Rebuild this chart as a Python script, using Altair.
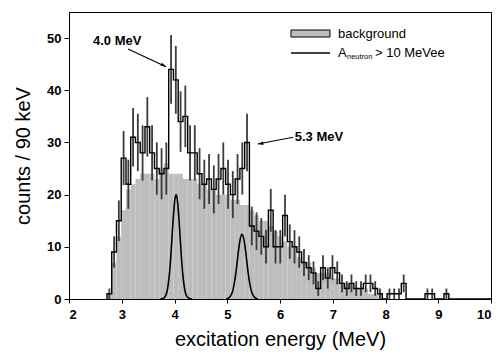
import altair as alt
import pandas as pd

# ---- spectrum: 90 keV bins starting at 2.72 MeV ----
E_START = 2.72
BIN_W = 0.09
X_MIN, X_MAX = 2, 10
Y_MAX = 55

counts = [1, 9, 15, 27, 22, 31, 30, 28, 33, 28,
          25, 24, 25, 44, 42, 34, 35, 28, 28, 24,
          22, 23, 21, 23, 25, 22, 20, 23, 25, 30,
          14, 13, 12, 10, 17, 10, 10, 16, 11, 10,
          9, 7, 6, 5, 2, 6, 4, 6, 5, 3,
          2, 3, 2, 2, 3, 3, 2, 1, 0, 1,
          1, 1, 3, 0, 0, 0, 0, 1, 1, 0,
          0, 1]

errors = [1.0, 3.0, 3.9, 5.2, 4.7, 5.6, 5.5, 5.3, 5.7, 5.3,
          5.0, 4.9, 5.0, 6.6, 6.5, 5.8, 5.9, 5.3, 5.3, 4.9,
          4.7, 4.8, 4.6, 4.8, 5.0, 4.7, 4.5, 4.8, 5.0, 5.5,
          3.7, 3.6, 3.5, 3.2, 4.1, 3.2, 3.2, 4.0, 3.3, 3.2,
          3.0, 2.6, 2.4, 2.2, 1.4, 2.4, 2.0, 2.4, 2.2, 1.7,
          1.4, 1.7, 1.4, 1.4, 1.7, 1.7, 1.4, 1.0, 0.0, 1.0,
          1.0, 1.0, 1.7, 0.0, 0.0, 0.0, 0.0, 1.0, 1.0, 0.0,
          0.0, 1.0]

background = [1, 7, 12, 17, 21, 22, 23, 24, 24, 24,
              23, 25, 26, 24, 24, 24, 23, 23, 23, 22,
              22, 21, 21, 20, 20, 20, 19, 19, 18, 18,
              17, 16, 15, 15, 14, 13, 12, 11, 10, 10,
              8, 7, 7, 6, 5, 5, 5, 4, 4, 3,
              3, 3, 2, 2, 2, 1, 1, 1, 0, 0,
              0, 0, 0, 0, 0, 0, 0, 0, 0, 0,
              0, 0]

# ---- fitted peak shapes ----
peak1_e = [3.73, 3.78, 3.83, 3.855, 3.88, 3.905, 3.93, 3.955, 3.98, 4.005, 4.03,
           4.055, 4.08, 4.105, 4.13, 4.155, 4.18, 4.205, 4.23, 4.28, 4.33]
peak1_y = [0, 0.1, 0.6, 1.3, 2.7, 5.0, 8.2, 12.1, 16.0, 18.9, 20.0,
           18.9, 16.0, 12.1, 8.2, 5.0, 2.7, 1.3, 0.6, 0.1, 0]
peak2_e = [4.98, 5.03, 5.08, 5.105, 5.13, 5.155, 5.18, 5.205, 5.23, 5.255, 5.28,
           5.305, 5.33, 5.355, 5.38, 5.405, 5.43, 5.455, 5.48, 5.53, 5.58]
peak2_y = [0, 0.2, 0.9, 1.6, 2.8, 4.4, 6.4, 8.6, 10.5, 11.9, 12.4,
           11.9, 10.5, 8.6, 6.4, 4.4, 2.8, 1.6, 0.9, 0.2, 0]

# ---- annotations (energy, counts) ----
note_text = ["4.0 MeV", "5.3 MeV"]
note_x = [2.455, 6.28]
note_y = [49.4, 31.0]
arrow_x0 = [3.12, 6.25]
arrow_y0 = [47.9, 31.0]
arrow_x1 = [3.84, 5.58]
arrow_y1 = [44.5, 29.7]
arrow_angle = [118, 262]

FONT = "Liberation Sans"

n = len(counts)
lo = [round(E_START + BIN_W * i, 4) for i in range(n)]
hi = [round(e + BIN_W, 4) for e in lo]
mid = [round(e + BIN_W / 2, 4) for e in lo]

hist = pd.DataFrame({
    "mid": mid,
    "err_lo": [max(c - e, 0) for c, e in zip(counts, errors)],
    "err_hi": [c + e for c, e in zip(counts, errors)],
})
bars_err = hist[[e > 0 for e in errors]]

# step paths for the measured histogram and the background
step_x = [E_START] + lo + [hi[-1], X_MAX]
step = pd.DataFrame({
    "e": step_x,
    "c": [0] + counts + [0, 0],
    "bg": [0] + background + [0, 0],
    "k": list(range(len(step_x))),
})

peaks = pd.DataFrame({
    "e": peak1_e + peak2_e,
    "c": peak1_y + peak2_y,
    "peak": ["4.0"] * len(peak1_e) + ["5.3"] * len(peak2_e),
})

notes = pd.DataFrame({
    "text": note_text, "x": note_x, "y": note_y,
    "x0": arrow_x0, "y0": arrow_y0, "x1": arrow_x1, "y1": arrow_y1,
    "angle": arrow_angle,
})

xs = alt.Scale(domain=[X_MIN, X_MAX], nice=False)
ys = alt.Scale(domain=[0, Y_MAX], nice=False)

x_axis = alt.Axis(values=list(range(X_MIN, X_MAX + 1)), title="excitation energy (MeV)",
                  grid=False, tickSize=4, labelPadding=5, titlePadding=8, format="d")
y_axis = alt.Axis(values=[0, 10, 20, 30, 40, 50], title="counts / 90 keV",
                  grid=False, tickSize=5, labelPadding=3, titlePadding=13)

bg_layer = alt.Chart(step).mark_area(
    color="#bdbdbd", interpolate="step-after", opacity=1
).encode(
    x=alt.X("e:Q", scale=xs, axis=x_axis),
    y=alt.Y("bg:Q", scale=ys, axis=y_axis),
    order="k:Q",
)

err_layer = alt.Chart(bars_err).mark_rule(color="#3c3c3c", strokeWidth=1.8).encode(
    x="mid:Q", y="err_lo:Q", y2="err_hi:Q"
)

step_layer = alt.Chart(step).mark_line(
    color="black", strokeWidth=1.4, interpolate="step-after"
).encode(x="e:Q", y="c:Q", order="k:Q")

peak_layer = alt.Chart(peaks).mark_line(
    color="black", strokeWidth=1.6, interpolate="monotone"
).encode(x="e:Q", y="c:Q", detail="peak:N")

note_layer = alt.Chart(notes).mark_text(
    font=FONT, fontSize=13, fontWeight="bold", align="left", baseline="middle", color="black"
).encode(x="x:Q", y="y:Q", text="text:N")

shaft_layer = alt.Chart(notes).mark_rule(color="black", strokeWidth=1.2).encode(
    x="x0:Q", y="y0:Q", x2="x1:Q", y2="y1:Q"
)

head_layer = alt.Chart(notes).mark_point(
    shape="M0,0L-0.4,1.3L0.4,1.3Z", filled=True, color="black", opacity=1, size=70
).encode(x="x1:Q", y="y1:Q", angle=alt.Angle("angle:Q", scale=None))

# legend drawn in view coordinates
leg_box = alt.Chart(pd.DataFrame({"k": [0]})).mark_rect(
    fill="#bdbdbd", stroke="black", strokeWidth=1
).encode(x=alt.value(222), x2=alt.value(261), y=alt.value(18), y2=alt.value(25))

leg_line = alt.Chart(pd.DataFrame({"k": [0]})).mark_rule(
    color="black", strokeWidth=1.3
).encode(x=alt.value(222), x2=alt.value(261), y=alt.value(41))

leg_bg_text = alt.Chart(pd.DataFrame({"t": ["background"]})).mark_text(
    font=FONT, fontSize=13, align="left", baseline="middle", color="black"
).encode(x=alt.value(269), y=alt.value(22), text="t:N")

leg_a = alt.Chart(pd.DataFrame({"t": ["A"]})).mark_text(
    font=FONT, fontSize=13, align="left", baseline="middle", color="black"
).encode(x=alt.value(269), y=alt.value(41), text="t:N")

leg_sub = alt.Chart(pd.DataFrame({"t": ["neutron"]})).mark_text(
    font=FONT, fontSize=7.5, align="left", baseline="middle", color="black"
).encode(x=alt.value(278), y=alt.value(45), text="t:N")

leg_rest = alt.Chart(pd.DataFrame({"t": ["> 10 MeVee"]})).mark_text(
    font=FONT, fontSize=13, align="left", baseline="middle", color="black"
).encode(x=alt.value(306), y=alt.value(41), text="t:N")

chart = alt.layer(
    bg_layer, err_layer, step_layer, peak_layer,
    shaft_layer, head_layer, note_layer,
    leg_box, leg_line, leg_bg_text, leg_a, leg_sub, leg_rest,
).properties(
    width=422, height=287,
    autosize=alt.AutoSizeParams(type="none"),
    padding={"left": 69, "top": 12, "right": 8, "bottom": 60},
    background="white",
).configure_view(
    stroke="black", strokeWidth=1
).configure_axis(
    domainColor="black", tickColor="black", labelColor="black", titleColor="black",
    labelFont=FONT, labelFontSize=13, labelFontWeight="bold",
    titleFont=FONT, titleFontSize=20, titleFontWeight="normal",
    domainWidth=1, tickWidth=1,
)

chart.save("out.html", embed_options={"renderer": "svg", "actions": False})
